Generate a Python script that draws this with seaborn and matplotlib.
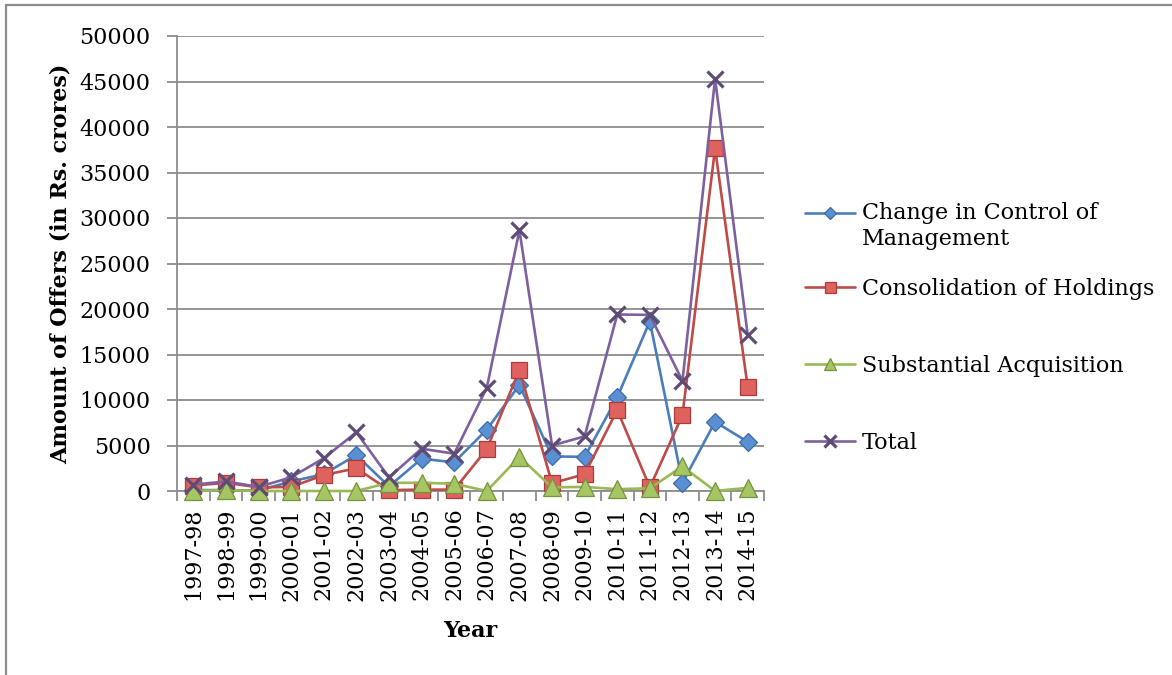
import numpy as np
import pandas as pd
import seaborn as sns
import matplotlib
matplotlib.use("Agg")
import matplotlib.pyplot as plt
from matplotlib.lines import Line2D
from matplotlib.ticker import MultipleLocator, FixedLocator

# Open offers by objective, amount in Rs. crores
years = ["1997-98", "1998-99", "1999-00", "2000-01", "2001-02", "2002-03",
         "2003-04", "2004-05", "2005-06", "2006-07", "2007-08", "2008-09",
         "2009-10", "2010-11", "2011-12", "2012-13", "2013-14", "2014-15"]
change_control = [100, 100, 50, 1050, 1850, 3950, 500, 3550, 3150, 6750,
                  11650, 3800, 3750, 10300, 18650, 900, 7600, 5400]
consolidation = [600, 900, 400, 450, 1750, 2500, 100, 150, 150, 4600,
                 13300, 850, 1850, 8900, 400, 8350, 37650, 11400]
substantial = [0, 100, 0, 0, 0, 0, 900, 900, 800, 0,
               3750, 400, 450, 200, 300, 2700, 0, 350]
total = [700, 1050, 450, 1500, 3600, 6450, 1500, 4650, 4100, 11350,
         28650, 5000, 6000, 19400, 19350, 12100, 45300, 17150]

series_labels = ["Change in Control of\nManagement", "Consolidation of Holdings",
                 "Substantial Acquisition", "Total"]

sns.set_theme(style="white")
plt.rcParams["font.family"] = ["DejaVu Serif"]
plt.rcParams["text.color"] = "black"
plt.rcParams["axes.labelcolor"] = "black"

W, H = 1172, 675
fig = plt.figure(figsize=(W / 100, H / 100), dpi=100)
ax = fig.add_axes([177 / W, 1 - 491 / H, (764 - 177) / W, (491 - 36) / H])

grey = "#8c8c8c"
styles = [
    # values, line colour, marker, face, edge, size, edge width
    (change_control, "#4A7EBB", "D", "#5B8FD3", "#3A6CA6", 9.0, 0.9),
    (consolidation, "#BE4B48", "s", "#E0625E", "#A83D3A", 11.0, 0.9),
    (substantial, "#98B954", "^", "#A5C663", "#76913F", 12.5, 0.9),
    (total, "#7D60A0", "x", "#5E4C75", "#5E4C75", 12.0, 2.3),
]

x = np.arange(len(years))
handles = []
for (vals, lc, mk, fc, ec, ms, mew) in styles:
    sns.lineplot(x=x, y=vals, ax=ax, color=lc, linewidth=1.9, marker=mk,
                 markersize=ms, markerfacecolor=fc, markeredgecolor=ec,
                 markeredgewidth=mew, legend=False, clip_on=False, zorder=3)
    handles.append(ax.lines[-1])

ax.set_xlim(-0.5, len(years) - 0.5)
ax.set_ylim(0, 50000)
ax.yaxis.set_major_locator(MultipleLocator(5000))
ax.grid(axis="y", color=grey, linewidth=1.3)
ax.grid(axis="x", visible=False)
ax.set_axisbelow(True)

ax.set_xticks(x)
ax.set_xticklabels(years, rotation=90, fontsize=16)
ax.xaxis.set_minor_locator(FixedLocator(np.arange(-0.5, len(years), 1.0)))
ax.tick_params(axis="x", which="major", length=0, pad=12, labelcolor="black")
ax.tick_params(axis="x", which="minor", length=7, width=1.3, color=grey,
               direction="out", bottom=True)
ax.tick_params(axis="y", which="major", length=7, width=1.3, color=grey,
               direction="out", left=True, pad=12, labelsize=16,
               labelcolor="black")

for side in ("top", "right"):
    ax.spines[side].set_visible(False)
for side in ("left", "bottom"):
    ax.spines[side].set_color(grey)
    ax.spines[side].set_linewidth(1.3)

ax.set_ylabel("Amount of Offers (in Rs. crores)", fontsize=16,
              fontweight="bold", color="black")
ax.yaxis.set_label_coords((72 - 177) / 587, 0.5)
ax.set_xlabel("Year", fontsize=16, fontweight="bold", va="top", color="black")
ax.xaxis.set_label_coords(0.5, -(620 - 491) / 455)

# Legend entries stacked on the right
legend_y = [226, 289, 366, 443]
for h, lab, yc in zip(handles, series_labels, legend_y):
    leg = fig.legend(handles=[h], labels=[lab], loc="center left",
                     bbox_to_anchor=(805 / W, 1 - yc / H), frameon=False,
                     borderpad=0, borderaxespad=0, handlelength=2.25,
                     handletextpad=0.3, fontsize=16, markerscale=0.72,
                     labelcolor="black")
    if "\n" in lab:
        lh = leg.legend_handles[0]
        lh.set_ydata(np.asarray(lh.get_ydata(), dtype=float) + 10)

# Outer frame (top and left edges)
fig.add_artist(Line2D([6 / W, 6 / W], [0, 1 - 5 / H], transform=fig.transFigure,
                      color=grey, linewidth=1.6))
fig.add_artist(Line2D([6 / W, 1], [1 - 5 / H, 1 - 5 / H], transform=fig.transFigure,
                      color=grey, linewidth=1.6))

fig.savefig("out.png", dpi=100, facecolor="white")
